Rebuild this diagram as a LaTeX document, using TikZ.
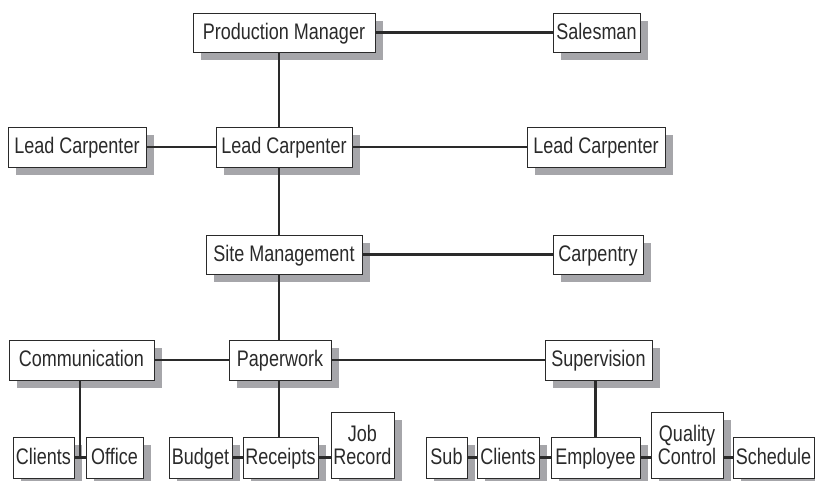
\documentclass[tikz,border=0pt]{standalone}
\usepackage{fontspec}
\setmainfont{Liberation Sans}[FakeStretch=0.8]
\usetikzlibrary{shadows}
\definecolor{shade}{HTML}{A6A6AA}
\definecolor{ink}{HTML}{2A2A2A}
\tikzset{
  basebox/.style={draw=ink, line width=1pt, fill=white, text=ink, inner sep=0pt,
    font=\fontsize{22.5}{22.5}\selectfont, align=center,
    drop shadow={shadow xshift=8pt, shadow yshift=-8pt, fill=shade, opacity=1}},
  box/.style={basebox, text height=16pt, text depth=3pt},
  tallbox/.style={basebox, minimum height=66pt},
  link/.style={draw=ink, line width=2.2pt}
}
\begin{document}
\begin{tikzpicture}[x=1pt,y=-1pt]
\useasboundingbox (0,0) rectangle (815,480);
% top
\node[box, minimum width=182pt, minimum height=39pt] (pm) at (284,32.5) {Production Manager};
\node[box, minimum width=87pt, minimum height=39pt] (sales) at (596.5,32.5) {Salesman};
% lead carpenters
\node[box, minimum width=138pt, minimum height=40pt] (lc1) at (77,147) {Lead Carpenter};
\node[box, minimum width=136pt, minimum height=40pt] (lc2) at (284,147) {Lead Carpenter};
\node[box, minimum width=138pt, minimum height=40pt] (lc3) at (596,147) {Lead Carpenter};
% site
\node[box, minimum width=156pt, minimum height=39pt] (site) at (284,254.5) {Site Management};
\node[box, minimum width=90pt, minimum height=39pt] (carp) at (598,254.5) {Carpentry};
% third row
\node[box, minimum width=145pt, minimum height=40pt] (comm) at (81.5,360) {Communication};
\node[box, minimum width=102pt, minimum height=40pt] (paper) at (280,360) {Paperwork};
\node[box, minimum width=107pt, minimum height=40pt] (superv) at (598.5,360) {Supervision};
% bottom row
\node[box, minimum width=61pt, minimum height=41pt] (cl1) at (43.5,457.5) {Clients};
\node[box, minimum width=57pt, minimum height=41pt] (office) at (114.5,457.5) {Office};
\node[box, minimum width=63pt, minimum height=41pt] (budget) at (200.5,457.5) {Budget};
\node[box, minimum width=75pt, minimum height=41pt] (receipts) at (280.5,457.5) {Receipts};
\node[tallbox, minimum width=63pt] (job) at (362.5,445) {Job\\Record};
\node[box, minimum width=41pt, minimum height=41pt] (sub) at (446.5,457.5) {Sub};
\node[box, minimum width=62pt, minimum height=41pt] (cl2) at (508,457.5) {Clients};
\node[box, minimum width=89pt, minimum height=41pt] (emp) at (595.5,457.5) {Employee};
\node[tallbox, minimum width=72pt] (qc) at (687,445) {Quality\\Control};
\node[box, minimum width=81pt, minimum height=41pt] (sched) at (773.5,457.5) {Schedule};
% trunk
\coordinate (trunk) at (279,0);
\coordinate (commx) at (80,0);
\draw[link] (pm.south -| trunk) -- (lc2.north -| trunk);
\draw[link] (lc2.south -| trunk) -- (site.north -| trunk);
\draw[link] (site.south -| trunk) -- (paper.north -| trunk);
\draw[link] (paper.south -| trunk) -- (receipts.north -| trunk);
\draw[link] (pm) -- (sales);
\draw[link] (lc1) -- (lc2);
\draw[link] (lc2) -- (lc3);
\draw[link] (site) -- (carp);
\draw[link] (comm) -- (paper);
\draw[link] (paper) -- (superv);
\draw[link] (comm.south -| commx) -- (commx |- cl1.east);
\draw[link] (cl1) -- (office);
\draw[link] (budget) -- (receipts);
\draw[link] (receipts) -- (receipts.east -| job.west);
\draw[link] (superv.south -| emp.north) -- (emp.north);
\draw[link] (sub) -- (cl2);
\draw[link] (cl2) -- (emp);
\draw[link] (emp) -- (emp.east -| qc.west);
\draw[link] (sched.west -| qc.east) -- (sched);
\end{tikzpicture}
\end{document}
